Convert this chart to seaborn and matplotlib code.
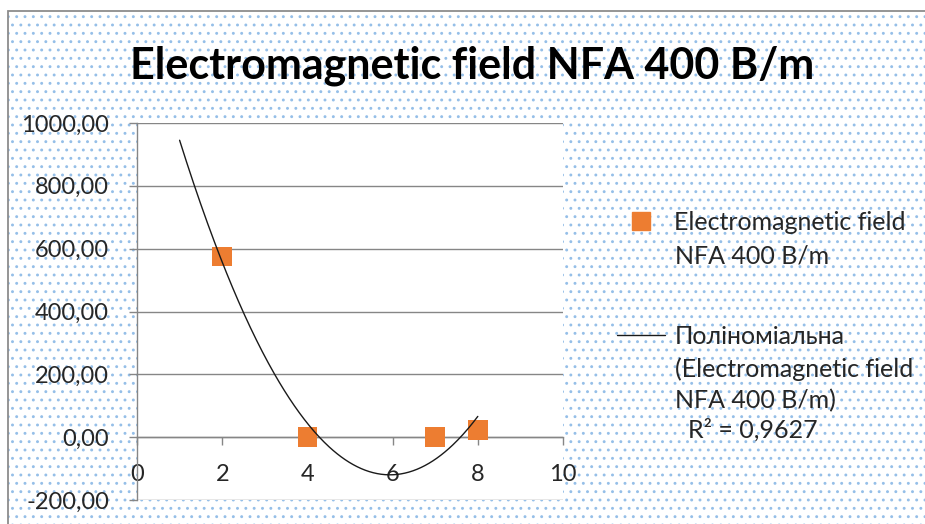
import numpy as np
import pandas as pd
import matplotlib
matplotlib.use("Agg")
import matplotlib.pyplot as plt
import seaborn as sns
from matplotlib.patches import Rectangle
from matplotlib.lines import Line2D
from matplotlib.ticker import FuncFormatter

# ---- data ----
title = "Electromagnetic field NFA 400 B/m"
series_label = ["Electromagnetic field", "NFA 400 B/m"]
trend_label = ["Поліноміальна", "(Electromagnetic field", "NFA 400 B/m)"]
r2_label = "R² = 0,9627"
x_vals = [2, 4, 7, 8]
y_vals = [575, 0, 0, 22]
x_ticks = [0, 2, 4, 6, 8, 10]
y_ticks = [-200, 0, 200, 400, 600, 800, 1000]
trend_start = 1

W, H = 925, 524
sns.set_theme(style="white")
plt.rcParams["font.family"] = ["Lato", "DejaVu Sans"]
plt.rcParams["hatch.linewidth"] = 0.9

fig = plt.figure(figsize=(W / 100, H / 100), dpi=100)
fig.patch.set_facecolor("white")

def fx(px):
    return px / W

def fy(py):
    return 1 - py / H

# dotted chart-area background and border
bg = Rectangle((fx(8), -0.1), 1.0, fy(11) + 0.1, transform=fig.transFigure,
               facecolor="white", edgecolor="#95bfe8", hatch="..", lw=0, zorder=-2)
fig.add_artist(bg)
border = Rectangle((fx(8), -0.1), 1.0, fy(11) + 0.1, transform=fig.transFigure,
                   fill=False, edgecolor="#8c8c8c", lw=1.3, zorder=-1)
fig.add_artist(border)

ax = fig.add_axes([fx(137), fy(500), fx(563) - fx(137), fy(123) - fy(500)])
ax.set_facecolor("white")
ax.set_zorder(1)

df = pd.DataFrame({"x": x_vals, "y": y_vals})
sns.scatterplot(data=df, x="x", y="y", marker="s", s=200, color="#ED7D31",
                edgecolor="none", ax=ax, zorder=3, legend=False)

coef = np.polyfit(x_vals, y_vals, 2)
xx = np.linspace(trend_start, max(x_vals), 300)
sns.lineplot(x=xx, y=np.polyval(coef, xx), color="#1a1a1a", lw=1.0, ax=ax, zorder=4)

ax.set_xlim(0, 10)
ax.set_ylim(-200, 1000)
ax.set_xticks(x_ticks)
ax.set_yticks(y_ticks)
ax.set_xlabel("")
ax.set_ylabel("")
ax.yaxis.set_major_formatter(FuncFormatter(lambda v, p: f"{v:.2f}".replace(".", ",")))
ax.grid(axis="y", color="#868686", lw=1.0)
ax.grid(axis="x", visible=False)
for s in ["top", "right"]:
    ax.spines[s].set_visible(False)
ax.spines["bottom"].set_position(("data", 0))
for s in ["bottom", "left"]:
    ax.spines[s].set_color("#868686")
    ax.spines[s].set_linewidth(1.0)
ax.tick_params(axis="both", which="major", direction="out", length=6, width=1,
               color="#868686", labelsize=17, labelcolor="#262626")
ax.tick_params(axis="x", pad=13)
ax.tick_params(axis="y", pad=14, left=True)
ax.tick_params(axis="x", bottom=True)

fig.text(fx(472), fy(66), title, ha="center", va="center", fontsize=31,
         fontweight="bold", color="black")

# legend
FS = 18
handles = [Line2D([], [], marker="s", ls="none", color="#ED7D31", ms=13.5),
           Line2D([], [], color="#1a1a1a", lw=1.0)]
leg = fig.legend(handles=handles, labels=[series_label[0], trend_label[0]],
                 loc="upper left", bbox_to_anchor=(fx(617), fy(210.5)),
                 frameon=False, fontsize=FS, handlelength=1.9, handletextpad=0.4,
                 labelspacing=3.64, borderpad=0, borderaxespad=0)
for t in leg.get_texts():
    t.set_color("#262626")
fig.text(fx(675), fy(256), series_label[1], ha="left", va="center", fontsize=FS, color="#262626")
fig.text(fx(675), fy(369), trend_label[1], ha="left", va="center", fontsize=FS, color="#262626")
fig.text(fx(675), fy(401), trend_label[2], ha="left", va="center", fontsize=FS, color="#262626")
fig.text(fx(688), fy(430), r2_label, ha="left", va="center", fontsize=FS, color="#262626")

fig.savefig("out.png", dpi=100)
